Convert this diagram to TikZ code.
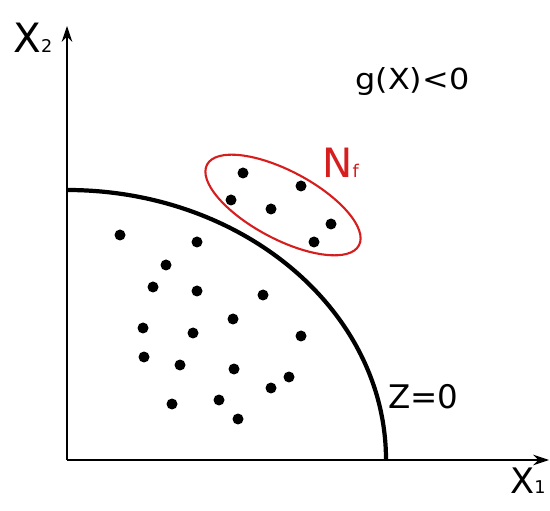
\documentclass[tikz,border=0pt]{standalone}
\usepackage{fontspec}
\setmainfont{DejaVu Sans}
\usepackage{graphicx}
\usepackage{tikz}
\usetikzlibrary{arrows.meta}
\definecolor{nfred}{RGB}{214,30,30}

\begin{document}
\begin{tikzpicture}[x=0.02cm,y=0.02cm,
  axis/.style={line width=0.9pt,-{Stealth[length=9pt,width=6pt]}},
  pt/.style={circle,fill=black,inner sep=0pt,minimum size=0.22cm},
  lbl/.style={inner sep=0pt,anchor=base west},
  sub/.style={font=\fontsize{9.5}{9.5}\selectfont}]
\useasboundingbox (0,0) rectangle (550,510);
\coordinate (O) at (67,50);
\coordinate (Ytip) at (67,484);
\coordinate (Xtip) at (549,50);
\draw[axis] (O) -- (Ytip);
\draw[axis] (O) -- (Xtip);
\draw[line width=2.4pt] (67,320) coordinate (Zs)
  arc[start angle=90,end angle=0,x radius=319,y radius=270] coordinate (Ze);
\draw[nfred,line width=1.2pt,rotate around={-28:(283,305)}] (283,305) ellipse [x radius=86,y radius=34];
\foreach \p [count=\i] in {(243,337),(301,324),(231,310),(271,301),(331,286),(314,268)}{
\node[pt] (f\i) at \p {};
}
\foreach \p [count=\i] in {(120,275),(197,268),(166,245),(153,223),(197,219),(263,215),
  (233,191),(143,182),(193,177),(301,174),(144,153),(180,145),(234,141),(289,133),
  (271,122),(172,106),(219,110),(238,91)}{
\node[pt] (s\i) at \p {};
}
\node[lbl,font=\fontsize{23}{23}\selectfont] (x2) at (13,457) {X{\fontsize{10}{10}\selectfont 2}};
\node[lbl,font=\fontsize{20}{20}\selectfont] (x1) at (510,17) {X{\fontsize{10}{10}\selectfont 1}};
\node[lbl,font=\fontsize{16.5}{16.5}\selectfont] (gx) at (355,420) {\scalebox{1.1}[1]{g(X)<0}};
\node[lbl,font=\fontsize{23}{23}\selectfont,text=nfred] (nf) at (322,332) {N{\fontsize{10}{10}\selectfont f}};
\node[lbl,font=\fontsize{18.5}{18.5}\selectfont] (z0) at (388,102) {Z=0};
\end{tikzpicture}
\end{document}
